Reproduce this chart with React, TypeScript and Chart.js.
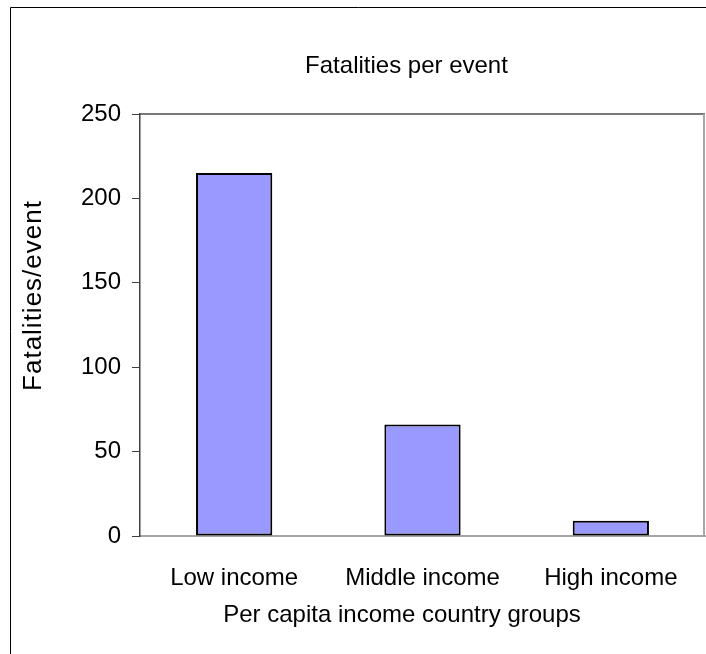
import { useEffect, useRef } from "react";
import { Chart, registerables } from "chart.js";

Chart.register(...registerables);

const CHART_TITLE = "Fatalities per event";
const X_TITLE = "Per capita income country groups";
const Y_TITLE = "Fatalities/event";
const categories = ["Low income", "Middle income", "High income"];
const fatalitiesPerEvent = [215, 66, 9];
const yTickValues = [0, 50, 100, 150, 200, 250];

const FONT_FAMILY = '"Liberation Sans", Arial, Helvetica, sans-serif';

const framePlugin = {
  id: "excelFrame",
  beforeDraw(chart: any) {
    const ctx = chart.ctx;
    ctx.save();
    ctx.fillStyle = "#ffffff";
    ctx.fillRect(0, 0, chart.width, chart.height);
    // outer chart border (extends beyond the cropped picture)
    ctx.strokeStyle = "#000000";
    ctx.lineWidth = 1;
    ctx.beginPath();
    ctx.moveTo(10.5, chart.height + 5);
    ctx.lineTo(10.5, 7.5);
    ctx.lineTo(chart.width + 5, 7.5);
    ctx.stroke();
    ctx.restore();
  },
  beforeDatasetsDraw(chart: any) {
    const { ctx, chartArea } = chart;
    ctx.save();
    ctx.lineWidth = 1.5;
    ctx.strokeStyle = "#4a4a4a";
    ctx.beginPath();
    ctx.moveTo(chartArea.left, chartArea.top);
    ctx.lineTo(chartArea.right, chartArea.top);
    ctx.stroke();
    ctx.strokeStyle = "#a6a6a6";
    ctx.lineWidth = 2;
    ctx.beginPath();
    ctx.moveTo(chartArea.right - 1, chartArea.top);
    ctx.lineTo(chartArea.right - 1, chartArea.bottom);
    ctx.stroke();
    ctx.restore();
  },
  afterDraw(chart: any) {
    const ctx = chart.ctx;
    ctx.save();
    ctx.fillStyle = "#000000";
    ctx.font = `24px ${FONT_FAMILY}`;
    ctx.textAlign = "center";
    ctx.textBaseline = "alphabetic";
    ctx.fillText(CHART_TITLE, 406.5, 73);
    ctx.fillText(X_TITLE, 402, 622);
    ctx.restore();

    // rotated value-axis title
    ctx.save();
    ctx.fillStyle = "#000000";
    ctx.font = `26px ${FONT_FAMILY}`;
    (ctx as any).letterSpacing = "1px";
    ctx.translate(34, 296);
    ctx.rotate(-Math.PI / 2);
    ctx.textAlign = "center";
    ctx.textBaseline = "middle";
    ctx.fillText(Y_TITLE, 0.5, 0);
    ctx.restore();
  },
};

export default function App() {
  const canvasRef = useRef<HTMLCanvasElement | null>(null);

  useEffect(() => {
    document.body.style.margin = "0";
    const canvas = canvasRef.current;
    if (!canvas) return;
    const chart = new Chart(canvas, {
      type: "bar",
      data: {
        labels: categories,
        datasets: [
          {
            label: Y_TITLE,
            data: fatalitiesPerEvent,
            backgroundColor: "#9999ff",
            borderColor: "#000000",
            borderWidth: 2,
            borderSkipped: false,
            barPercentage: 0.405,
            categoryPercentage: 1,
          },
        ],
      },
      options: {
        animation: false,
        responsive: false,
        devicePixelRatio: 1,
        layout: { padding: { left: 10, top: 114, right: 1, bottom: 0 } },
        plugins: {
          legend: { display: false },
          title: { display: false },
          tooltip: { enabled: false },
        },
        scales: {
          x: {
            grid: { display: false },
            border: { display: true, color: "#a6a6a6", width: 2 },
            ticks: {
              color: "#000000",
              padding: 20,
              font: { family: FONT_FAMILY, size: 24 },
              maxRotation: 0,
            },
            afterFit(scale: any) {
              scale.height = 118;
            },
          },
          y: {
            min: 0,
            max: 250,
            afterBuildTicks(scale: any) {
              scale.ticks = yTickValues.map((v) => ({ value: v }));
            },
            grid: {
              display: true,
              drawOnChartArea: false,
              drawTicks: true,
              tickLength: 8,
              color: "#404040",
              lineWidth: 1,
            },
            border: { display: true, color: "#404040", width: 1.5 },
            ticks: {
              color: "#000000",
              padding: 11,
              font: { family: FONT_FAMILY, size: 24 },
            },
            title: { display: false, text: Y_TITLE },
            afterFit(scale: any) {
              scale.width = 130;
            },
          },
        },
      },
      plugins: [framePlugin],
    });
    return () => chart.destroy();
  }, []);

  return (
    <div style={{ width: 706, height: 654 }}>
      <canvas ref={canvasRef} width={706} height={654} style={{ display: "block" }} />
    </div>
  );
}
